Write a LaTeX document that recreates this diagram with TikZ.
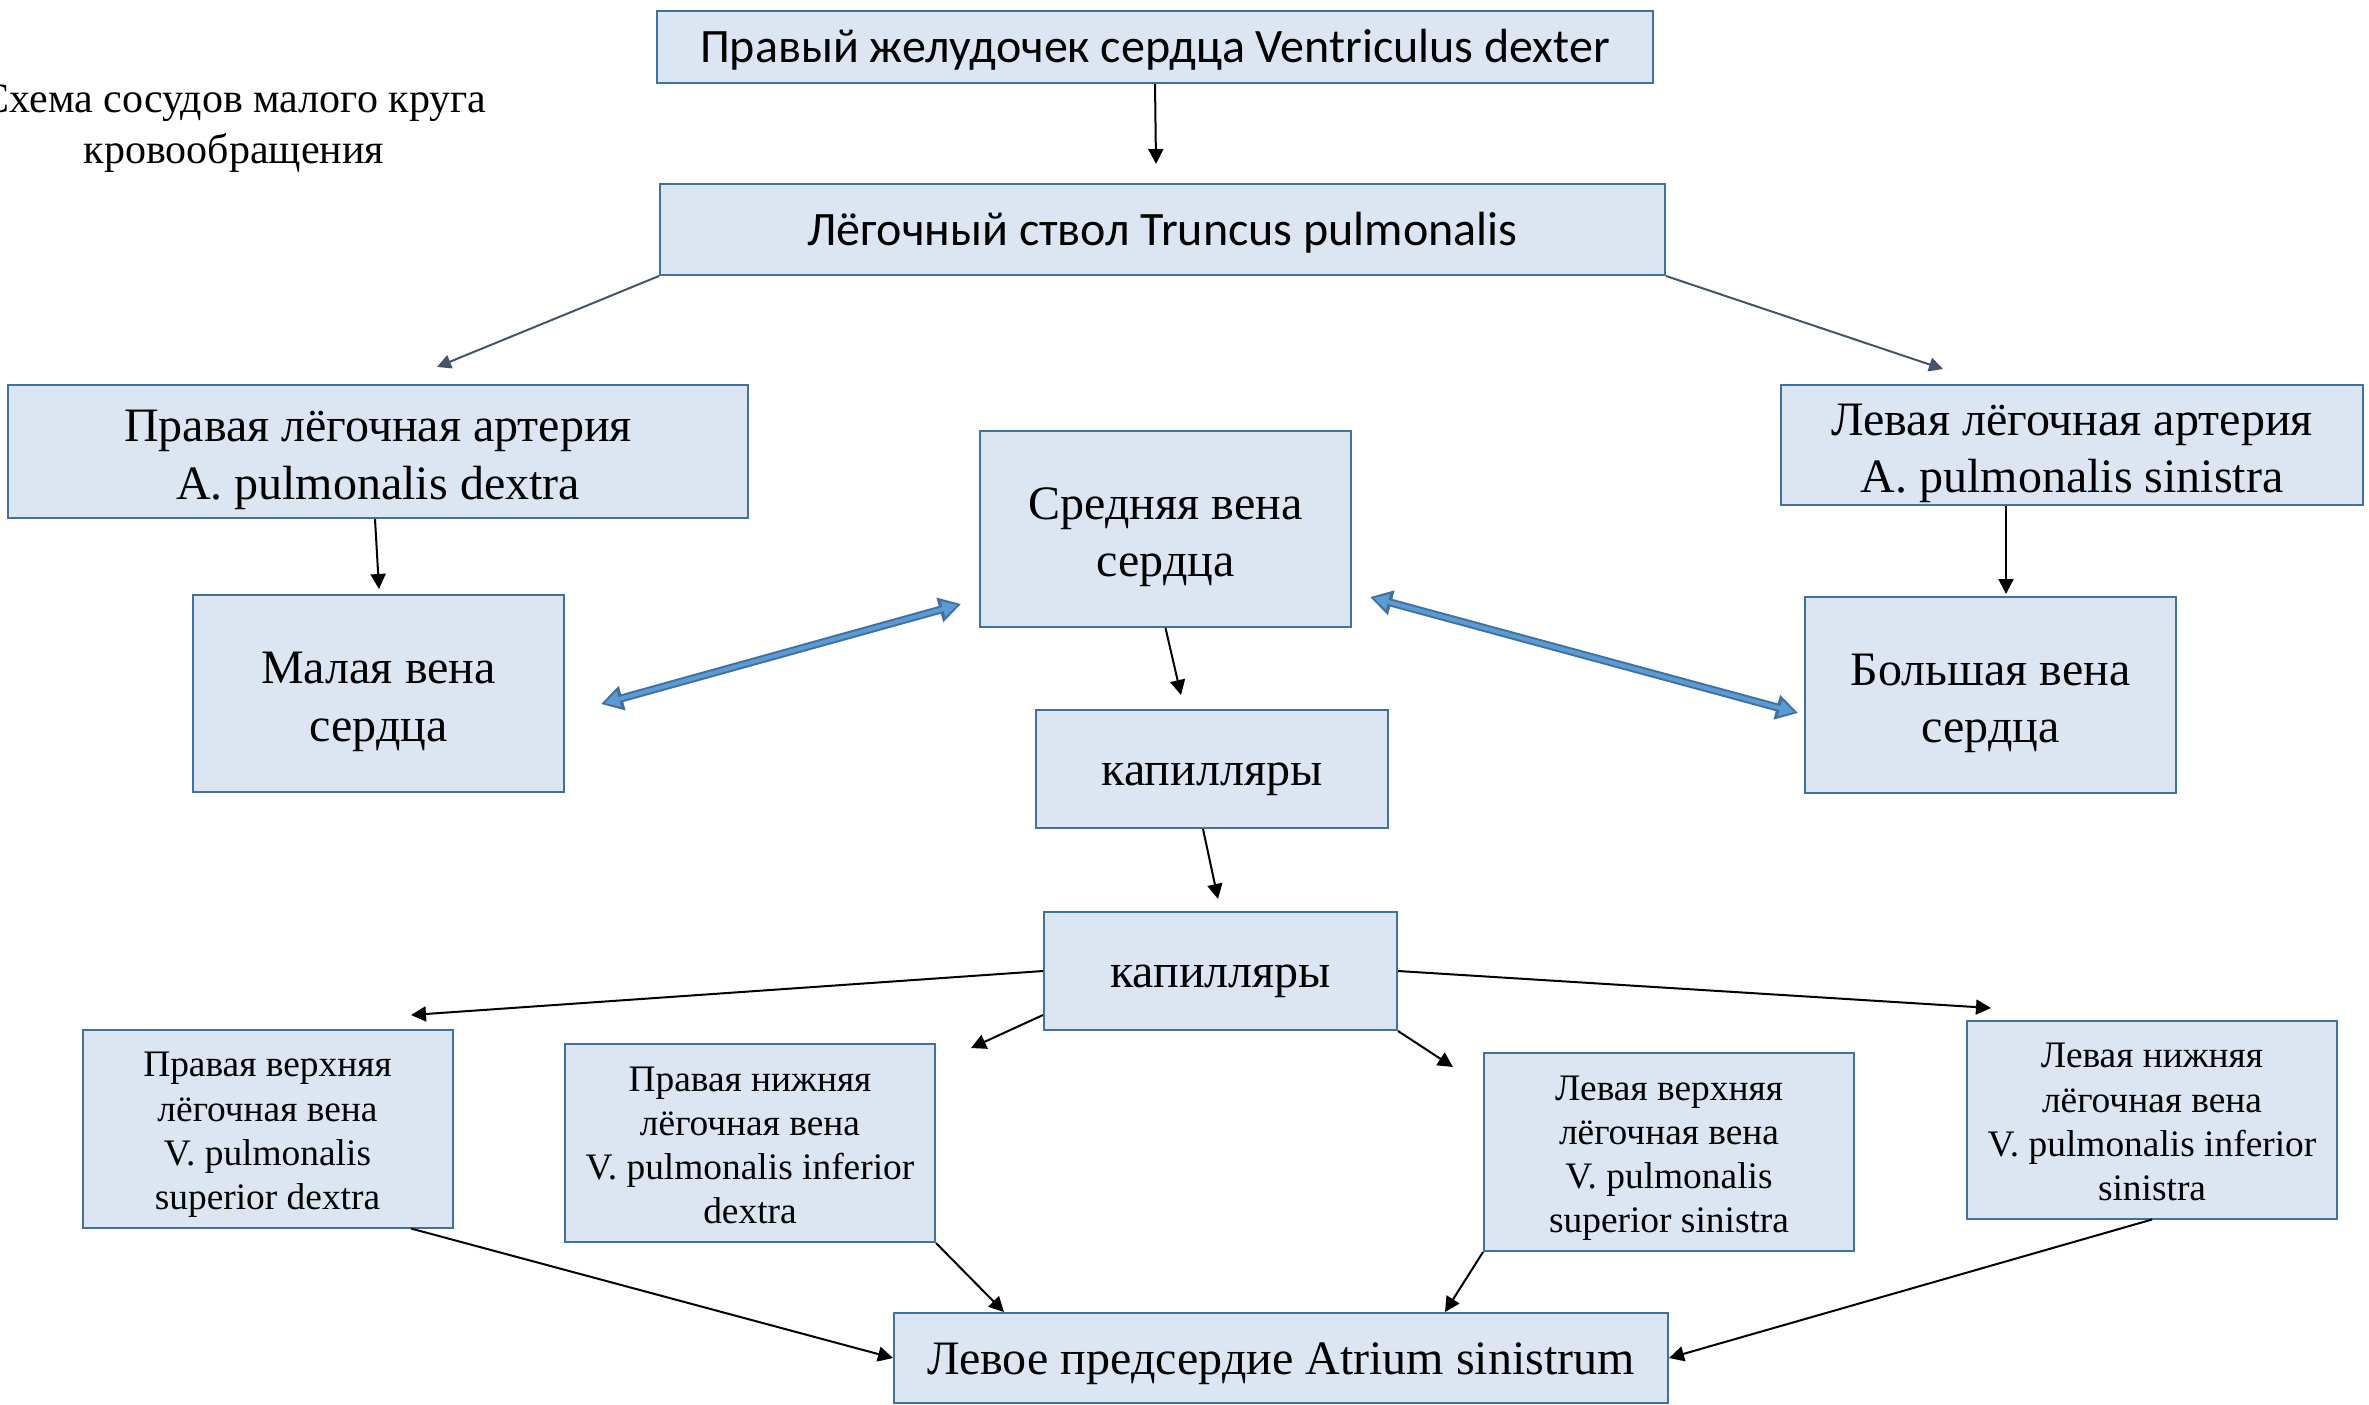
\documentclass[tikz,border=0pt]{standalone}
\usepackage{fontspec}
\setmainfont{Liberation Serif}
\newfontfamily\calibri{Carlito}
\usetikzlibrary{arrows.meta}
\definecolor{boxfill}{HTML}{DCE6F2}
\definecolor{boxline}{HTML}{41719C}
\definecolor{trunkarrow}{HTML}{44546A}
\definecolor{veinfill}{HTML}{5B9BD5}
\newcommand\tallline{\rule{0pt}{1em}}

\begin{document}
\begin{tikzpicture}[x=0.5pt, y=-0.5pt,
     vessel/.style={draw=boxline, fill=boxfill, line width=1pt, align=center, inner sep=0pt,
       font=\fontsize{24pt}{28.7pt}\selectfont,
       execute at begin node=\rule{0pt}{0.891em}, execute at end node=\rule[-0.216em]{0pt}{0pt}},
     vein/.style={vessel, minimum width=185pt, minimum height=99pt, font=\fontsize{18.7pt}{22.1pt}\selectfont},
     heart/.style={vessel, font=\calibri\fontsize{24pt}{28pt}\selectfont,
       execute at begin node=\rule{0pt}{0.8em}, execute at end node=\rule[-0.24em]{0pt}{0pt}},
     link/.style={-{Triangle[length=7.5pt,width=7.5pt]}, line width=1pt},
     trunklink/.style={link, draw=trunkarrow, -{Triangle[length=7pt,width=7pt]}},
     twoway/.style={draw=boxline, line width=4pt, {Triangle[length=11pt,width=12pt]}-{Triangle[length=11pt,width=12pt]}},
     twowayfill/.style={draw=veinfill, line width=2pt, {Triangle[length=7.5pt,width=7.5pt]}-{Triangle[length=7.5pt,width=7.5pt]},
       shorten <=1.8pt, shorten >=1.8pt}]
   \useasboundingbox (0,0) rectangle (2369,1404);

   \node[align=center, font=\fontsize{21pt}{25.5pt}\selectfont] (title) at (234,129) {Схема сосудов малого круга\\кровообращения};

   \node[heart, minimum width=498pt, minimum height=36pt] (rv) at (1155,47) {Правый желудочек сердца Ventriculus dexter};
   \node[heart, minimum width=502.5pt, minimum height=45.5pt] (trunk) at (1162.5,229.5) {Лёгочный ствол Truncus pulmonalis};
   \node[vessel, minimum width=370pt, minimum height=66.5pt] (rpa) at (378,451.5) {\tallline Правая лёгочная артерия\\A. pulmonalis dextra};
   \node[vessel, minimum width=291pt, minimum height=60pt] (lpa) at (2072,445) {\tallline Левая лёгочная артерия\\A. pulmonalis sinistra};
   \node[vessel, minimum width=185.5pt, minimum height=98pt] (mid) at (1165.5,529) {\tallline Средняя вена\\сердца};
   \node[vessel, minimum width=185.5pt, minimum height=98.5pt] (small) at (378.5,693.5) {\tallline Малая вена\\сердца};
   \node[vessel, minimum width=185.5pt, minimum height=98pt] (great) at (1990.5,695) {\tallline Большая вена\\сердца};
   \node[vessel, minimum width=176pt, minimum height=59pt] (cap1) at (1212,769) {капилляры};
   \node[vessel, minimum width=176.5pt, minimum height=59pt] (cap2) at (1220.5,971) {капилляры};
   \node[vein] (rsv) at (267.5,1128.5) {\tallline Правая верхняя\\лёгочная вена\\V. pulmonalis\\superior dextra};
   \node[vein] (riv) at (750,1143) {\tallline Правая нижняя\\лёгочная вена\\V. pulmonalis inferior\\dextra};
   \node[vein] (lsv) at (1669,1152) {\tallline Левая верхняя\\лёгочная вена\\V. pulmonalis\\superior sinistra};
   \node[vein] (liv) at (2152,1119.5) {\tallline Левая нижняя\\лёгочная вена\\V. pulmonalis inferior\\sinistra};
   \node[vessel, minimum width=387pt, minimum height=45pt] (la) at (1281,1358) {Левое предсердие Atrium sinistrum};

   % free arrow ends
   \coordinate (rvend) at (1156,164);
   \coordinate (rpatop) at (437,367);
   \coordinate (lpatop) at (1943,369);
   \coordinate (rpaend) at (379,589);
   \coordinate (lpaend) at (2006,594);
   \coordinate (midend) at (1181,695);
   \coordinate (cap1end) at (1218,899);
   \coordinate (rsvtop) at (411,1015);
   \coordinate (rivtop) at (971,1048);
   \coordinate (lsvtop) at (1453,1067);
   \coordinate (livtop) at (1991,1008);
   \coordinate (smallend) at (601,704);
   \coordinate (midleft) at (961,604);
   \coordinate (midright) at (1370,597);
   \coordinate (greatend) at (1798,713);

   \draw[link] (rv.south) -- (rvend);
   \draw[trunklink] (trunk.south west) -- (rpatop);
   \draw[trunklink] (trunk.south east) -- (lpatop);
   \draw[link] ([xshift=-1.5pt]rpa.south) -- (rpaend);
   \draw[link] (lpa.south -| lpaend) -- (lpaend);
   \draw[link] (mid.south) -- (midend);
   \draw[link] ([xshift=-4.5pt]cap1.south) -- (cap1end);
   \draw[link] (cap2.west) -- (rsvtop);
   \draw[link] ([yshift=-22pt]cap2.west) -- (rivtop);
   \draw[link] (cap2.south east) -- (lsvtop);
   \draw[link] (cap2.east) -- (livtop);
   \draw[link] (rsv.south -| rsvtop) -- (la.west);
   \draw[link] (riv.south east) -- ([xshift=55.5pt]la.north west);
   \draw[link] (lsv.south west) -- ([xshift=276pt]la.north west);
   \draw[link] (liv.south) -- (la.east);

   \draw[twoway] (smallend) -- (midleft);
   \draw[twowayfill] (smallend) -- (midleft);
   \draw[twoway] (midright) -- (greatend);
   \draw[twowayfill] (midright) -- (greatend);
\end{tikzpicture}
\end{document}
